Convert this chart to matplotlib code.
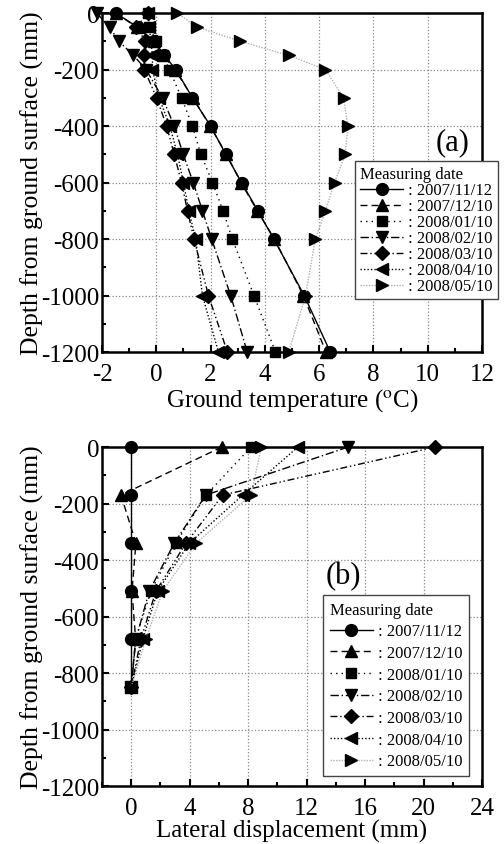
import matplotlib
matplotlib.use("Agg")
import matplotlib.pyplot as plt
from matplotlib.ticker import MultipleLocator

plt.rcParams['font.family'] = ['Liberation Serif', 'DejaVu Serif']
plt.rcParams['mathtext.fontset'] = 'stix'
plt.rcParams['axes.unicode_minus'] = False

dates = ['2007/11/12', '2007/12/10', '2008/01/10', '2008/02/10',
         '2008/03/10', '2008/04/10', '2008/05/10']

# (a) ground temperature vs depth
depth_a = [0, -50, -100, -150, -200, -300, -400, -500, -600, -700, -800, -1000, -1200]
temp_1112 = [-1.5, -0.68, -0.07, 0.29, 0.72, 1.33, 2.0, 2.56, 3.14, 3.74, 4.33, 5.45, 6.41]
temp_1210 = [-1.5, -0.72, -0.1, 0.25, 0.68, 1.35, 1.98, 2.58, 3.12, 3.72, 4.35, 5.42, 6.25]
temp_0110 = [-0.32, -0.26, 0.0, 0.25, 0.48, 0.93, 1.33, 1.64, 2.07, 2.46, 2.80, 3.6, 4.39]
temp_0210 = [-2.2, -1.72, -1.38, -0.84, -0.38, 0.23, 0.66, 0.99, 1.36, 1.70, 2.04, 2.74, 3.35]
temp_0310 = [-0.32, -0.73, -0.4, -0.44, -0.44, 0.01, 0.38, 0.66, 0.93, 1.15, 1.39, 1.92, 2.62]
temp_0410 = [-0.3, -0.26, -0.2, -0.14, -0.14, 0.1, 0.5, 0.78, 1.0, 1.2, 1.45, 1.7, 2.29]
temp_0510 = [0.77, 1.51, 3.1, 4.88, 6.23, 6.9, 7.06, 6.96, 6.57, 6.23, 5.86, 5.5, 4.88]
temps = [temp_1112, temp_1210, temp_0110, temp_0210, temp_0310, temp_0410, temp_0510]

# (b) lateral displacement vs depth
depth_b = [0, -170, -340, -510, -680, -850]
disp_1112 = [0, 0, 0, 0, 0, 0]
disp_1210 = [6.2, -0.7, 0.32, 0.05, 0.3, 0]
disp_0110 = [8.2, 5.12, 3.06, 1.35, 0.3, 0]
disp_0210 = [14.84, 5.1, 2.95, 1.23, 0.32, 0]
disp_0310 = [20.8, 6.26, 3.75, 1.69, 0.66, 0]
disp_0410 = [11.4, 7.63, 3.98, 1.8, 0.8, 0]
disp_0510 = [8.9, 8.2, 4.44, 2.15, 1.0, 0]
disps = [disp_1112, disp_1210, disp_0110, disp_0210, disp_0310, disp_0410, disp_0510]

markers = ['o', '^', 's', 'v', 'D', '<', '>']
msizes = [8.5, 9, 7.5, 9, 7.5, 9, 9]
styles = ['-', (0, (5, 3)), (0, (1, 3)), (0, (6, 2, 1, 2)),
          (0, (5, 2, 1, 2, 1, 2)), (0, (1, 1.5)), (0, (1, 1))]
lcolors = ['black'] * 6 + ['#b0b0b0']

fig = plt.figure(figsize=(5.04, 8.45), dpi=100)
ax1 = fig.add_axes([0.2024, 0.5822, 0.754, 0.4012])
ax2 = fig.add_axes([0.2024, 0.0686, 0.754, 0.4012])


def style_axis(ax):
    ax.grid(True, which='major', linestyle=':', color='#888888', linewidth=0.9)
    ax.set_axisbelow(True)
    for sp in ax.spines.values():
        sp.set_linewidth(1.8)
    ax.tick_params(which='both', direction='in', labelsize=18, width=1.5)
    ax.tick_params(which='major', length=5)
    ax.tick_params(which='minor', length=3)
    ax.tick_params(axis='x', pad=8)
    ax.tick_params(axis='y', pad=2)


for i in range(7):
    ax1.plot(temps[i], depth_a, linestyle=styles[i], color=lcolors[i], lw=1.0,
             marker=markers[i], ms=msizes[i], mfc='black', mec='black',
             clip_on=False, zorder=3, label=': ' + dates[i])
ax1.set_xlim(-2, 12)
ax1.set_ylim(-1200, 0)
ax1.xaxis.set_major_locator(MultipleLocator(2))
ax1.xaxis.set_minor_locator(MultipleLocator(1))
ax1.yaxis.set_major_locator(MultipleLocator(200))
ax1.yaxis.set_minor_locator(MultipleLocator(100))
style_axis(ax1)
ax1.set_xlabel(r'Ground temperature ($^{\rm o}$C)', fontsize=18, labelpad=1)
ax1.set_ylabel('Depth from ground surface (mm)', fontsize=18.5, labelpad=-2)
ax1.text(10.9, -455, '(a)', fontsize=22, ha='center', va='center')
leg1 = ax1.legend(loc='upper left', bbox_to_anchor=(355 / 504, 1 - 162 / 845),
                  bbox_transform=fig.transFigure, borderaxespad=0,
                  title='Measuring date',
                  fontsize=12, title_fontsize=12, numpoints=1, handlelength=2.6,
                  handleheight=0.5, handletextpad=0.3, labelspacing=0.0,
                  borderpad=0.3, fancybox=False, framealpha=1, edgecolor='#444444')
leg1._legend_box.align = 'left'
leg1.get_frame().set_linewidth(1.0)

for i in range(7):
    ax2.plot(disps[i], depth_b, linestyle=styles[i], color=lcolors[i], lw=1.0,
             marker=markers[i], ms=msizes[i], mfc='black', mec='black',
             clip_on=False, zorder=3, label=': ' + dates[i])
ax2.set_xlim(-2, 24)
ax2.set_ylim(-1200, 0)
ax2.xaxis.set_major_locator(MultipleLocator(4))
ax2.xaxis.set_minor_locator(MultipleLocator(2))
ax2.yaxis.set_major_locator(MultipleLocator(200))
ax2.yaxis.set_minor_locator(MultipleLocator(100))
style_axis(ax2)
ax2.set_xlabel('Lateral displacement (mm)', fontsize=18, labelpad=0)
ax2.set_ylabel('Depth from ground surface (mm)', fontsize=18.5, labelpad=-2)
ax2.text(14.5, -455, '(b)', fontsize=22, ha='center', va='center')
leg2 = ax2.legend(loc='upper left', bbox_to_anchor=(323 / 504, 1 - 596 / 845),
                  bbox_transform=fig.transFigure, borderaxespad=0,
                  title='Measuring date',
                  fontsize=12, title_fontsize=12, numpoints=1, handlelength=2.6,
                  handletextpad=0.3, labelspacing=0.34, borderpad=0.4,
                  fancybox=False, framealpha=1, edgecolor='#444444')
leg2._legend_box.align = 'left'
leg2.get_frame().set_linewidth(1.0)

fig.savefig('out.png', dpi=100)
